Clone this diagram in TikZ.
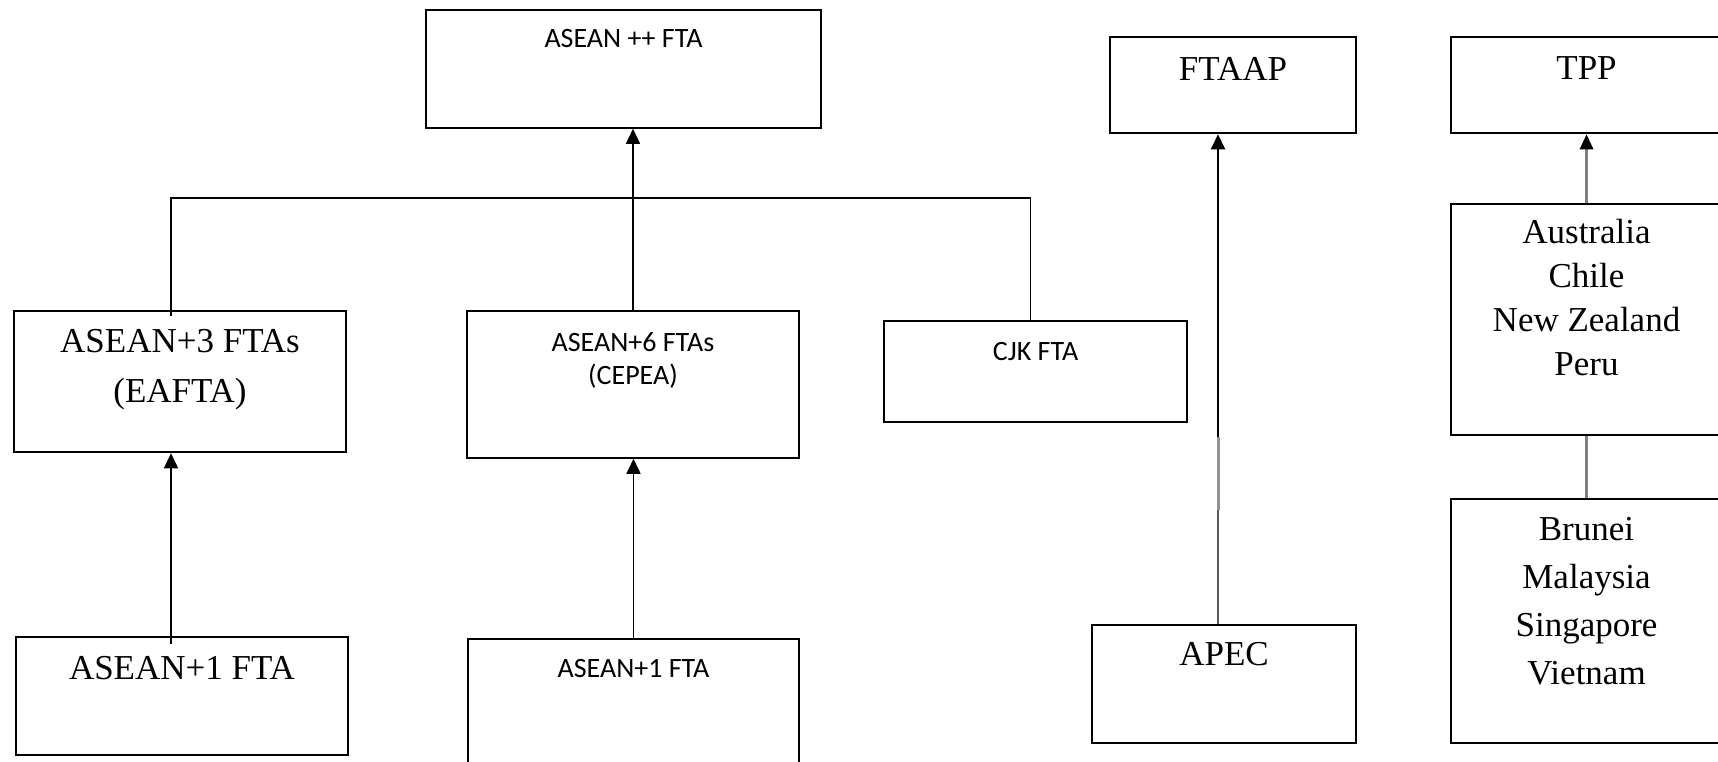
\documentclass[tikz,border=0pt]{standalone}
\usepackage{fontspec}
\setmainfont{Liberation Serif}
\newfontfamily\calibri{Carlito}
\usetikzlibrary{positioning,arrows.meta}

\tikzset{
  thinbox/.style={draw, line width=1.5pt, inner sep=0pt},
  oldbox/.style={draw, line width=2.5pt, inner sep=0pt},
  sanslbl/.style={inner sep=0pt, align=center, font=\calibri\fontsize{28}{33}\selectfont},
  seriflbl/.style={inner sep=0pt, align=center, font=\fontsize{35}{48}\selectfont},
  arr/.style={-{Triangle[length=15pt,width=14pt]}, line width=1.5pt},
  greyline/.style={draw=gray, line width=3pt},
}

\begin{document}
\begin{tikzpicture}[x=1pt,y=-1pt]
    \useasboundingbox (0,0) rectangle (1718,761);

    % ASEAN side
    \node[thinbox, minimum width=395pt, minimum height=118pt] (plusplus) at (623.5,69) {};
    \node[oldbox, minimum width=332pt, minimum height=141pt] (eafta) at (180,381.5) {};
    \node[thinbox, minimum width=332pt, minimum height=147pt] (cepea) at (633,384.5) {};
    \node[thinbox, minimum width=303pt, minimum height=101pt] (cjk) at (1035.5,371.5) {};
    \node[oldbox, minimum width=332pt, minimum height=118pt] (plusoneL) at (182,696) {};
    \node[thinbox, minimum width=331pt, minimum height=136pt] (plusoneR) at (633.5,707) {};

    \node[sanslbl, below=20pt of plusplus.north] (plusplustxt) {ASEAN ++ FTA};
    \node[seriflbl, font=\fontsize{35}{50}\selectfont, below=19pt of eafta.north] (eaftatxt) {ASEAN+3 FTAs\\(EAFTA)};
    \node[sanslbl, below=22pt of cepea.north] (cepeatxt) {ASEAN+6 FTAs\\(CEPEA)};
    \node[sanslbl, below=22pt of cjk.north] (cjktxt) {CJK FTA};
    \node[seriflbl, below=20pt of plusoneL.north] (plusoneLtxt) {ASEAN+1 FTA};
    \node[sanslbl, below=21pt of plusoneR.north] (plusoneRtxt) {ASEAN+1 FTA};

    \coordinate (bar) at (0,198);
    \coordinate (cjktop) at ([xshift=-5pt]cjk.north);
    \draw[line width=1.5pt] ([xshift=-9pt,yshift=-6pt]eafta.north) |- (bar -| cjktop) -- (cjktop);
    \draw[arr] (cepea.north) -- (cepea.north |- plusplus.south);
    \draw[arr] ([xshift=-11pt,yshift=-8pt]plusoneL.north) -- ([xshift=-9pt]eafta.south);
    \draw[arr] (plusoneR.north) -- (plusoneR.north |- cepea.south);

    % APEC side
    \node[oldbox, minimum width=246pt, minimum height=96pt] (ftaap) at (1233,85) {};
    \node[oldbox, minimum width=264pt, minimum height=118pt] (apec) at (1224,684) {};
    \node[seriflbl, below=21pt of ftaap.north] (ftaaptxt) {FTAAP};
    \node[seriflbl, below=18pt of apec.north] (apectxt) {APEC};

    \coordinate (apecmid) at (1218,510);
    \coordinate (apecgrey) at (1218,437);
    \draw[line width=2pt, black!65] ([xshift=-6pt]apec.north) -- (apecmid);
    \draw[line width=3pt, gray!85] (apecmid) -- (apecgrey);
    \draw[arr, line width=2pt] (apecgrey) -- (apecgrey |- ftaap.south);

    % TPP side
    \node[oldbox, minimum width=271pt, minimum height=96pt] (tpp) at (1586.5,85) {};
    \node[oldbox, minimum width=271pt, minimum height=231pt] (members) at (1586.5,319.5) {};
    \node[oldbox, minimum width=271pt, minimum height=244pt] (founders) at (1586.5,621) {};
    \node[seriflbl, below=21pt of tpp.north] (tpptxt) {TPP};
    \node[seriflbl, font=\fontsize{35}{44}\selectfont, below=16pt of members.north] (memberstxt) {Australia\\Chile\\New Zealand\\Peru};
    \node[seriflbl, below=19pt of founders.north] (founderstxt) {Brunei\\Malaysia\\Singapore\\Vietnam};

    \draw[greyline, -{Triangle[length=15pt,width=13pt,color=black]}] (members.north) -- (tpp.south);
    \draw[greyline] (founders.north) -- (members.south);

\end{tikzpicture}
\end{document}
